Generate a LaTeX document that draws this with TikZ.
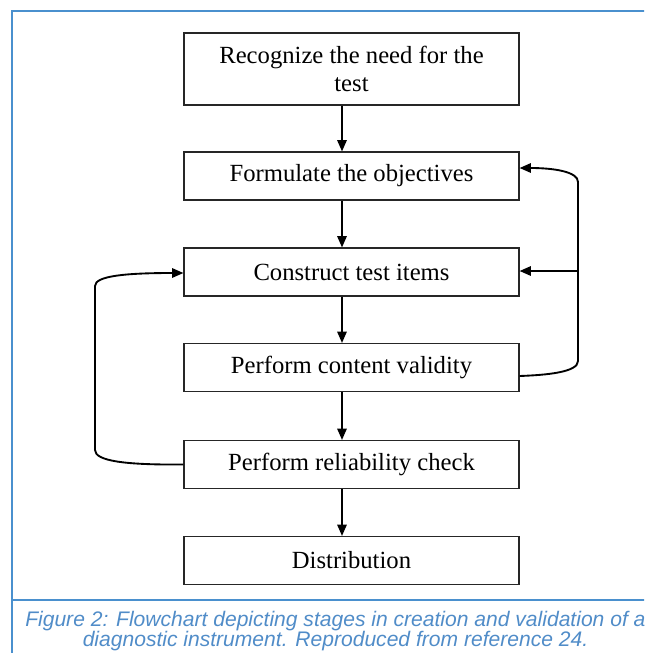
\documentclass[tikz,border=0pt]{standalone}
\usepackage{fontspec}
\setmainfont{Liberation Serif}
\newfontfamily\capfont{Liberation Sans}
\usetikzlibrary{arrows.meta,calc}
\definecolor{frameblue}{RGB}{74,144,206}
\definecolor{capblue}{RGB}{80,140,200}
\begin{document}
\begin{tikzpicture}[x=0.75pt,y=-0.75pt,
  stepbox/.style={draw=black!85, line width=0.8pt, minimum width=251.25pt,
    minimum height=36pt, inner sep=0pt, align=center,
    font=\fontsize{18.5}{21}\selectfont},
  flow/.style={line width=1.4pt, -{Triangle[length=8.5pt,width=7pt]}},
  captext/.style={inner sep=0pt, text=capblue, font=\capfont\itshape\fontsize{15.8}{16}\selectfont}]
\useasboundingbox (0,0) rectangle (644,653);
\clip (0,0) rectangle (644,653);
% frame
\draw[frameblue, line width=2.1pt] (12,660) -- (12,11) -- (660,11);
\draw[frameblue, line width=1.6pt] (12,600) -- (660,600);
% boxes
\node[stepbox, minimum height=54pt] (n1) at (351.5,69) {Recognize the need for the\\test};
\node[stepbox] (n2) at (351.5,176) {Formulate the objectives};
\node[stepbox] (n3) at (351.5,272) {Construct test items};
\node[stepbox] (n4) at (351.5,367.5) {Perform content validity};
\node[stepbox] (n5) at (351.5,464.5) {Perform reliability check};
\node[stepbox] (n6) at (351.5,560.5) {Distribution};
\coordinate (ax) at (342,0);
\draw[flow] (n1.south -| ax) -- (n2.north -| ax);
\draw[flow] (n2.south -| ax) -- (n3.north -| ax);
\draw[flow] (n3.south -| ax) -- (n4.north -| ax);
\draw[flow] (n4.south -| ax) -- (n5.north -| ax);
\draw[flow] (n5.south -| ax) -- (n6.north -| ax);
% right feedback loop
\coordinate (rb) at (578,361);
\coordinate (rt) at (578,182);
\coordinate (rm) at (578,271);
\draw[flow] ($(n4.east)+(0,8.5)$) .. controls (548,375) and (578,372) .. (rb)
  -- (rt) .. controls (578,172) and (555,168) .. ($(n2.east)+(0,-8)$);
\draw[flow] (rm) -- (rm -| n3.east);
% left feedback loop
\coordinate (lb) at (95,450);
\coordinate (lt) at (95,286);
\draw[flow] (n5.west) .. controls (125,465) and (95,461) .. (lb)
  -- (lt) .. controls (95,276) and (125,273) .. ($(n3.west)+(0,1)$);
% caption
\node[captext, anchor=base west] (c1) at (25,626) {Figure 2: Flowchart depicting stages in creation and validation of a};
\node[captext, anchor=base] (c2) at (335.5,646) {diagnostic instrument. Reproduced from reference 24.};
\end{tikzpicture}
\end{document}
